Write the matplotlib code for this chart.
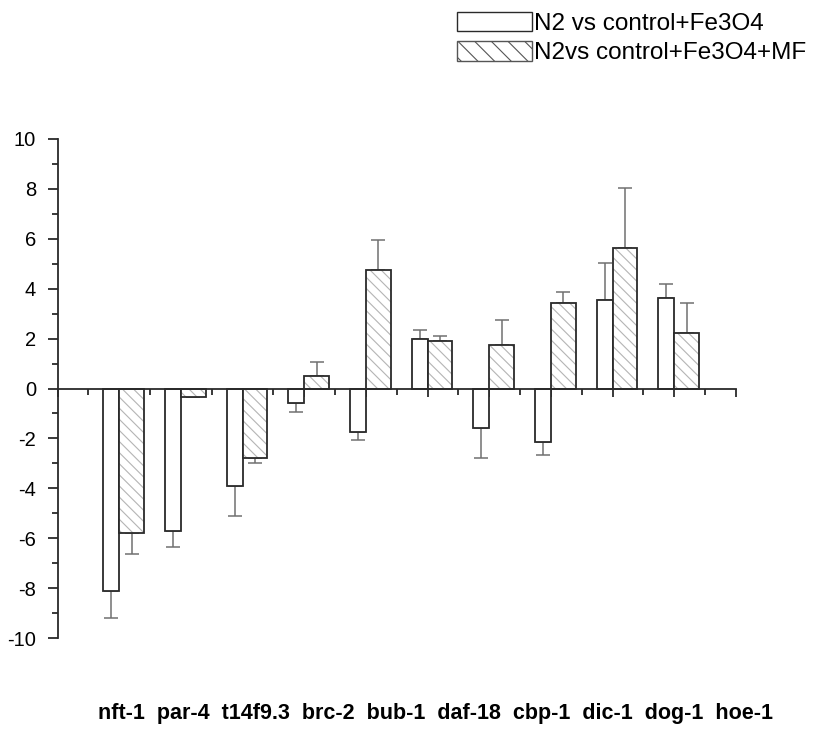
import matplotlib
matplotlib.use("Agg")
import matplotlib.pyplot as plt
import numpy as np
from matplotlib.patches import Patch
from matplotlib.ticker import MultipleLocator

plt.rcParams['font.family'] = ['Liberation Sans', 'DejaVu Sans']
plt.rcParams['hatch.linewidth'] = 0.8
plt.rcParams['axes.unicode_minus'] = False

genes = ["nft-1", "par-4", "t14f9.3", "brc-2", "bub-1",
         "daf-18", "cbp-1", "dic-1", "dog-1", "hoe-1"]
series_names = ["N2 vs control+Fe3O4", "N2vs control+Fe3O4+MF"]

# fold change and its error (one-sided, away from zero)
fe3o4 = [-8.1, -5.7, -3.9, -0.6, -1.75, 2.0, -1.6, -2.13, 3.55, 3.62]
fe3o4_err = [1.1, 0.65, 1.2, 0.35, 0.33, 0.33, 1.2, 0.55, 1.5, 0.55]
fe3o4_mf = [-5.8, -0.35, -2.8, 0.5, 4.75, 1.92, 1.75, 3.42, 5.65, 2.22]
fe3o4_mf_err = [0.85, 0.0, 0.2, 0.55, 1.2, 0.2, 1.0, 0.45, 2.4, 1.2]

edge = "#2a2a2a"
hatch_col = "#b4b4b4"
err_col = "#707070"

fig = plt.figure(figsize=(8.13, 7.33), dpi=100)
W, H = 813, 733
ax = fig.add_axes([57.5 / W, 1 - 638 / H, 678.5 / W, 499 / H])

pos = np.arange(1, len(genes) + 1)
w1, w2 = 0.26, 0.40


def one_sided(vals, errs):
    vals = np.asarray(vals)
    errs = np.asarray(errs)
    lower = np.where(vals < 0, errs, 0.0)
    upper = np.where(vals >= 0, errs, 0.0)
    return [lower, upper]


x1 = pos - w1 / 2
x2 = pos + w2 / 2

ax.errorbar(x1, fe3o4, yerr=one_sided(fe3o4, fe3o4_err), fmt="none",
            ecolor=err_col, elinewidth=1.1, capsize=5, capthick=1.1, zorder=1)
ax.errorbar(x2, fe3o4_mf, yerr=one_sided(fe3o4_mf, fe3o4_mf_err), fmt="none",
            ecolor=err_col, elinewidth=1.1, capsize=5, capthick=1.1, zorder=1)

ax.bar(x1, fe3o4, width=w1, color="white", edgecolor=edge, linewidth=1.3, zorder=2)
# hatched bars: hatch layer in grey, outline drawn on top in dark
ax.bar(x2, fe3o4_mf, width=w2, color="white", edgecolor=hatch_col,
       hatch="\\\\\\", linewidth=0, zorder=2)
ax.bar(x2, fe3o4_mf, width=w2, fill=False, edgecolor=edge, linewidth=1.3, zorder=3)

ax.set_xlim(0, 11)
ax.set_ylim(-10, 10)

for s in ("top", "right"):
    ax.spines[s].set_visible(False)
ax.spines["bottom"].set_position(("data", 0))
for s in ("left", "bottom"):
    ax.spines[s].set_linewidth(1.3)
    ax.spines[s].set_color(edge)
    ax.spines[s].set_zorder(4)

ax.xaxis.set_major_locator(MultipleLocator(1))
ax.xaxis.set_minor_locator(MultipleLocator(0.5))
ax.yaxis.set_major_locator(MultipleLocator(2))
ax.yaxis.set_minor_locator(MultipleLocator(1))
ax.tick_params(axis="x", which="both", direction="out", labelbottom=False,
               color=edge, width=1.3)
ax.tick_params(axis="x", which="major", length=6)
ax.tick_params(axis="x", which="minor", length=4)
ax.tick_params(axis="y", which="both", direction="out", color=edge, width=1.3)
ax.tick_params(axis="y", which="major", length=7.5, labelsize=14.5, pad=8)
ax.tick_params(axis="y", which="minor", length=4)

# gene names in one row beneath the plot
fig.text(435.5 / W, 1 - 713 / H, "  ".join(genes), ha="center", va="center",
         fontsize=15.5, fontweight="bold")

handles = [
    Patch(facecolor="white", edgecolor=edge, linewidth=1.0),
    Patch(facecolor="white", edgecolor="#555555", linewidth=1.0, hatch="\\\\"),
]
fig.legend(handles, series_names, loc="upper left",
           bbox_to_anchor=(457 / W, 1 - 12 / H), frameon=False,
           fontsize=17.5, handlelength=3.1, handleheight=0.85,
           handletextpad=0.08, labelspacing=0.25, borderpad=0, borderaxespad=0)

fig.savefig("out.png", dpi=100)
